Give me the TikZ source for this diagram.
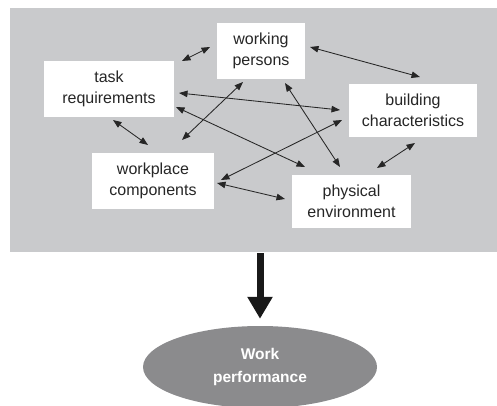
\documentclass[tikz,border=0pt]{standalone}
\usepackage{fontspec}
\setmainfont{Liberation Sans}
\usetikzlibrary{arrows.meta,shapes.geometric}
\definecolor{bggray}{HTML}{C9CACC}
\definecolor{ellgray}{HTML}{8B8B8D}
\definecolor{txt}{HTML}{262626}
\begin{document}
\begin{tikzpicture}[x=1pt,y=-1pt,
  factor/.style={draw=none,fill=white,inner sep=0pt,align=center,text=txt,
    font=\fontsize{16}{21}\selectfont},
  link/.style={line width=0.85pt,draw=black!85,{Triangle[length=8.5pt,width=6.5pt]}-{Triangle[length=8.5pt,width=6.5pt]}},
  bigarrow/.style={line width=7pt,draw=black!90,-{Triangle[length=22pt,width=24pt]}}
]
\useasboundingbox (0,0) rectangle (497,406);
\fill[bggray] (10,8) rectangle (497,252);
\node[factor,minimum width=88pt,minimum height=56pt] (wp) at (261,51) {working\\persons};
\node[factor,minimum width=130pt,minimum height=56pt] (tr) at (109,89) {task\\requirements};
\node[factor,minimum width=128pt,minimum height=53pt] (bc) at (413,110.5) {building\\characteristics};
\node[factor,minimum width=122pt,minimum height=56pt] (wc) at (153,181) {workplace\\components};
\node[factor,minimum width=119pt,minimum height=53pt] (pe) at (351.5,201.5) {physical\\environment};
\node[ellipse,fill=ellgray,minimum width=234pt,minimum height=82pt,inner sep=0pt,align=center,text=white,
  font=\bfseries\fontsize{15.5}{23}\selectfont] (perf) at (260,367) {Work\\performance};
% connector end points near the boxes
\coordinate (trA) at (182,61);  \coordinate (wpA) at (210,47);
\coordinate (wpB) at (310,47);  \coordinate (bcB) at (420,77);
\coordinate (trC) at (179,93);  \coordinate (bcC) at (340,110);
\coordinate (trD) at (176,107); \coordinate (peD) at (305,167);
\coordinate (trE) at (113,120); \coordinate (wcE) at (148,145);
\coordinate (wpF) at (243,82);  \coordinate (wcF) at (182,140);
\coordinate (wpG) at (285,83);  \coordinate (peG) at (340,167);
\coordinate (bcH) at (342,120); \coordinate (wcH) at (221,180);
\coordinate (bcI) at (415,143); \coordinate (peI) at (377,168);
\coordinate (wcJ) at (217,183); \coordinate (peJ) at (285,199);
\draw[link] (trA) -- (wpA);
\draw[link] (wpB) -- (bcB);
\draw[link] (trC) -- (bcC);
\draw[link] (trD) -- (peD);
\draw[link] (trE) -- (wcE);
\draw[link] (wpF) -- (wcF);
\draw[link] (wpG) -- (peG);
\draw[link] (bcH) -- (wcH);
\draw[link] (bcI) -- (peI);
\draw[link] (wcJ) -- (peJ);
\coordinate (bgbottom) at (260,253);
\draw[bigarrow,shorten >=7pt] (bgbottom) -- (perf.north);
\end{tikzpicture}
\end{document}
